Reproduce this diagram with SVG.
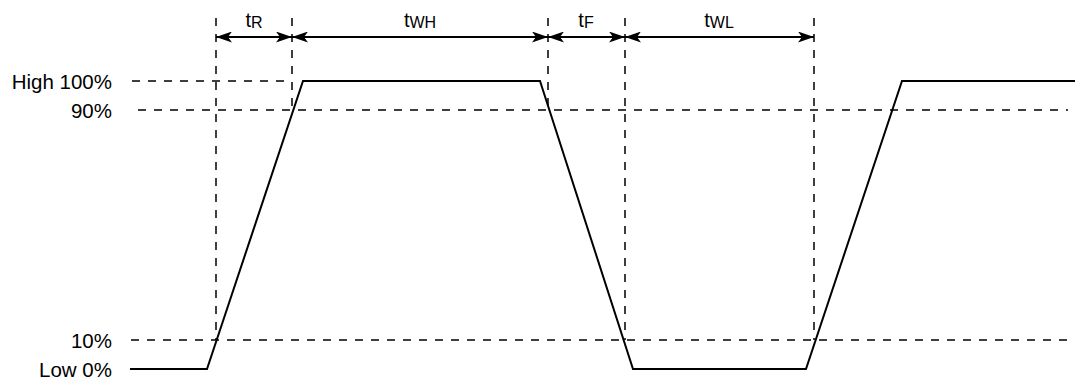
<svg xmlns="http://www.w3.org/2000/svg" width="1075" height="385" viewBox="0 0 1075 385">
<style>
.lbl{font-family:"Liberation Sans",Arial,sans-serif;font-size:20.5px;fill:#000}
.tl{font-family:"Liberation Sans",Arial,sans-serif;font-size:20px;fill:#000;text-anchor:middle}
.sub{font-size:16px}
.dash{stroke:#000;stroke-width:1.5;stroke-dasharray:8 8;fill:none}
.wave{stroke:#000;stroke-width:2;fill:none;stroke-linejoin:miter}
.dim{stroke:#000;stroke-width:2;fill:none}
</style>
<defs>
<marker id="ah" viewBox="0 0 16 11" refX="16" refY="5.5" markerWidth="16" markerHeight="11" markerUnits="userSpaceOnUse" orient="auto-start-reverse">
<path d="M0,0 L16,5.5 L0,11 L4,5.5 Z" fill="#000"/>
</marker>
</defs>
<g id="levels">
<text class="lbl" x="112" y="89" text-anchor="end">High 100%</text>
<text class="lbl" x="112" y="118" text-anchor="end">90%</text>
<text class="lbl" x="112" y="348" text-anchor="end">10%</text>
<text class="lbl" x="112" y="377" text-anchor="end">Low 0%</text>
</g>
<g id="guides">
<line class="dash" x1="132" y1="81" x2="292" y2="81"/>
<line class="dash" x1="138" y1="110" x2="1068" y2="110"/>
<line class="dash" x1="131" y1="340" x2="1068" y2="340"/>
<line class="dash" x1="216" y1="18" x2="216" y2="340"/>
<line class="dash" x1="292" y1="18" x2="292" y2="110"/>
<line class="dash" x1="548" y1="18" x2="548" y2="110"/>
<line class="dash" x1="625" y1="18" x2="625" y2="340"/>
<line class="dash" x1="814" y1="18" x2="814" y2="340"/>
</g>
<g id="waveform">
<polyline class="wave" points="130,369 207,369 303,81 540,81 633,369 806,369 902,81 1075,81"/>
</g>
<g id="connectors">
<line class="dim" x1="216" y1="37" x2="292" y2="37" marker-start="url(#ah)" marker-end="url(#ah)"/>
<line class="dim" x1="292" y1="37" x2="548" y2="37" marker-start="url(#ah)" marker-end="url(#ah)"/>
<line class="dim" x1="548" y1="37" x2="625" y2="37" marker-start="url(#ah)" marker-end="url(#ah)"/>
<line class="dim" x1="625" y1="37" x2="814" y2="37" marker-start="url(#ah)" marker-end="url(#ah)"/>
</g>
<g id="timing-labels">
<text class="tl" x="254" y="27">t<tspan class="sub" dy="1">R</tspan></text>
<text class="tl" x="420" y="27">t<tspan class="sub" dy="1">WH</tspan></text>
<text class="tl" x="586" y="27">t<tspan class="sub" dy="1">F</tspan></text>
<text class="tl" x="719" y="27">t<tspan class="sub" dy="1">WL</tspan></text>
</g>
</svg>
